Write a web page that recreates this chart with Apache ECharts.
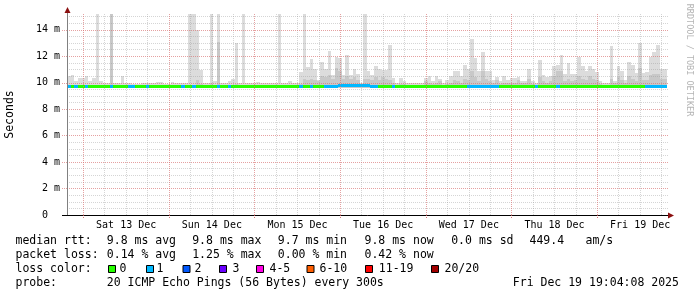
<!DOCTYPE html>
<html><head><meta charset="utf-8">
<script src="https://cdn.jsdelivr.net/npm/echarts@6/dist/echarts.min.js"></script>
<style>html,body{margin:0;padding:0;background:#fff}#c{width:697px;height:297px}</style>
</head><body><div id="c"></div>
<script>
// hours relative to Sat 13 Dec 00:00
const START_HOUR = -4.57;
const END_HOUR = 163.8;
const dayMidnights = [0, 24, 48, 72, 96, 120, 144];
const sixHourMarks = [6,12,18,30,36,42,54,60,66,78,84,90,102,108,114,126,132,138,150,156,162];
const dayLabelHours = [12, 36, 60, 84, 108, 132, 156];
const dayLabels = ['Sat 13 Dec','Sun 14 Dec','Mon 15 Dec','Tue 16 Dec','Wed 17 Dec','Thu 18 Dec','Fri 19 Dec'];
const yMajorTicks = [0, 2, 4, 6, 8, 10, 12, 14];
const yMinorTicks = [0.5,1,1.5,2.5,3,3.5,4.5,5,5.5,6.5,7,7.5,8.5,9,9.5,10.5,11,11.5,12.5,13,13.5,14.5,15];
const Y_MAX = 15.2;

// hourly smoke (ms)
const smokeTop = [
 10.48,10.6,10.1,10.35,10.35,10.5,10.1,10.35,15.2,10.15,9.95,9.95,
 15.2,9.95,9.95,10.5,9.95,9.95,9.9,9.9,9.9,9.95,9.95,9.95,
 9.95,10.05,10.05,9.9,9.9,10.05,9.95,9.95,9.95,9.95,15.2,15.2,
 14.0,11.0,9.95,9.95,15.2,10.1,15.2,9.95,9.95,10.1,10.3,13.0,
 9.95,15.2,9.95,9.95,9.95,10.05,9.95,9.95,9.95,9.95,9.95,15.2,
 9.95,9.95,10.1,9.95,9.95,10.78,15.2,11.2,11.8,11.03,10.2,11.54,
 11.03,12.37,10.6,11.94,11.9,10.6,12.12,10.6,11.03,10.7,9.95,15.2,
 10.86,10.6,11.24,11.03,11.0,11.0,12.83,10.35,9.95,10.35,10.1,9.98,
 9.98,9.98,9.98,9.98,10.35,10.48,10.1,10.48,10.3,9.95,10.2,10.48,
 10.86,10.86,10.48,11.36,11.03,13.3,11.9,10.86,12.32,10.9,10.86,10.2,
 10.4,10.1,10.48,10.2,10.35,10.35,10.4,10.15,10.15,11.03,10.1,9.95,
 11.69,10.6,10.4,10.48,11.3,11.36,12.12,10.7,11.49,10.7,10.7,11.94,
 11.24,10.9,11.24,11.03,10.78,10.1,9.95,9.95,12.8,10.15,11.24,10.9,
 10.2,11.6,11.36,10.73,13.0,10.73,10.78,11.94,12.3,12.88,11.03,11.03
];
const smokeMid = [
 9.85,9.85,9.85,9.85,9.85,9.85,9.85,9.85,9.85,9.85,9.85,9.85,
 15.2,9.85,9.85,9.85,9.85,9.85,9.85,9.85,9.85,9.85,9.85,9.85,
 9.85,9.85,9.85,9.85,9.85,9.85,9.85,9.85,9.85,9.85,9.85,9.85,
 10.2,9.9,9.85,9.85,9.95,9.85,13.05,9.85,9.85,9.85,9.85,9.9,
 9.85,9.85,9.85,9.85,9.85,9.85,9.85,9.85,9.85,9.85,9.85,9.85,
 9.85,9.85,9.85,9.85,9.85,9.9,10.3,10.2,10.3,10.2,10.1,10.5,
 10.4,10.6,10.3,11.1,10.9,10.3,10.5,10.3,10.4,10.2,9.9,10.3,
 10.3,10.2,10.4,10.2,10.4,10.3,10.2,9.95,9.85,9.9,9.9,9.85,
 9.85,9.85,9.85,9.85,10.1,9.95,9.9,9.95,10.1,9.85,9.9,9.95,
 10.2,10.1,9.95,10.3,10.2,10.86,10.4,10.1,10.86,10.3,10.1,9.95,
 10.2,9.9,10.0,9.95,10.0,10.0,10.2,9.95,9.95,10.3,9.9,9.85,
 10.4,10.1,10.0,10.1,10.5,10.86,10.86,10.1,10.3,10.1,10.2,10.5,
 10.3,10.2,10.5,10.3,10.2,9.9,9.85,9.85,10.3,9.95,10.4,10.2,
 9.95,10.5,10.3,10.1,11.1,10.2,10.2,10.6,10.7,10.7,10.3,10.3
];
const smokeLow = [
 9.62,9.63,9.6,9.63,9.63,9.61,9.63,9.63,9.63,9.63,9.64,9.64,
 9.62,9.64,9.64,9.63,9.64,9.61,9.61,9.63,9.64,9.64,9.61,9.64,
 9.64,9.64,9.64,9.64,9.64,9.64,9.64,9.64,9.61,9.64,9.63,9.61,
 9.63,9.63,9.64,9.64,9.63,9.64,9.62,9.64,9.64,9.61,9.63,9.63,
 9.64,9.63,9.64,9.64,9.64,9.64,9.64,9.64,9.64,9.64,9.64,9.63,
 9.64,9.64,9.64,9.64,9.64,9.62,9.63,9.63,9.62,9.63,9.63,9.63,
 9.62,9.62,9.62,9.62,9.64,9.64,9.64,9.64,9.64,9.64,9.64,9.64,
 9.64,9.62,9.62,9.63,9.63,9.63,9.63,9.62,9.64,9.64,9.64,9.64,
 9.64,9.64,9.64,9.64,9.64,9.64,9.64,9.64,9.64,9.64,9.64,9.64,
 9.64,9.64,9.64,9.64,9.62,9.62,9.62,9.62,9.62,9.62,9.62,9.62,
 9.62,9.64,9.64,9.64,9.64,9.64,9.64,9.64,9.64,9.64,9.64,9.62,
 9.64,9.64,9.64,9.64,9.64,9.62,9.64,9.64,9.64,9.64,9.64,9.64,
 9.64,9.64,9.64,9.64,9.64,9.64,9.64,9.64,9.64,9.64,9.64,9.64,
 9.64,9.64,9.64,9.64,9.63,9.64,9.62,9.62,9.62,9.62,9.62,9.62
];
const medianRtt = [
 9.73,9.76,9.73,9.76,9.76,9.73,9.76,9.76,9.76,9.76,9.76,9.76,
 9.78,9.76,9.76,9.76,9.76,9.73,9.73,9.76,9.76,9.76,9.73,9.76,
 9.76,9.76,9.77,9.77,9.76,9.76,9.76,9.76,9.73,9.76,9.76,9.73,
 9.76,9.76,9.76,9.76,9.76,9.76,9.74,9.76,9.76,9.73,9.76,9.76,
 9.76,9.76,9.76,9.76,9.77,9.77,9.76,9.76,9.76,9.76,9.76,9.76,
 9.76,9.76,9.76,9.76,9.76,9.74,9.76,9.76,9.74,9.76,9.76,9.76,
 9.74,9.74,9.74,9.74,9.8,9.8,9.8,9.8,9.8,9.8,9.8,9.8,
 9.8,9.74,9.74,9.76,9.76,9.76,9.76,9.74,9.76,9.76,9.76,9.76,
 9.77,9.77,9.77,9.77,9.77,9.77,9.77,9.77,9.77,9.77,9.77,9.77,
 9.77,9.77,9.77,9.77,9.75,9.75,9.75,9.75,9.75,9.75,9.75,9.75,
 9.75,9.77,9.77,9.77,9.77,9.77,9.77,9.77,9.77,9.77,9.77,9.75,
 9.77,9.77,9.77,9.77,9.77,9.75,9.77,9.77,9.77,9.77,9.77,9.77,
 9.77,9.77,9.77,9.77,9.77,9.77,9.77,9.77,9.77,9.77,9.77,9.77,
 9.77,9.77,9.77,9.77,9.77,9.77,9.75,9.75,9.75,9.75,9.75,9.75
];
// lost pings (of 20) per hour
const lossCount = [
 1,0,1,0,0,1,0,0,0,0,0,0,
 1,0,0,0,0,1,1,0,0,0,1,0,
 0,0,0,0,0,0,0,0,1,0,0,1,
 0,0,0,0,0,0,1,0,0,1,0,0,
 0,0,0,0,0,0,0,0,0,0,0,0,
 0,0,0,0,0,1,0,0,1,0,0,0,
 1,1,1,1,1,1,1,1,1,1,1,1,
 1,1,1,0,0,0,0,1,0,0,0,0,
 0,0,0,0,0,0,0,0,0,0,0,0,
 0,0,0,0,1,1,1,1,1,1,1,1,
 1,0,0,0,0,0,0,0,0,0,0,1,
 0,0,0,0,0,1,0,0,0,0,0,0,
 0,0,0,0,0,0,0,0,0,0,0,0,
 0,0,0,0,0,0,1,1,1,1,1,1
];
const lossLegend = ['0','1','2','3','4-5','6-10','11-19','20/20'];
const lossLegendColors = ['#26ff00','#00b8ff','#0059ff','#6a00ff','#ff00e5','#ff5e00','#ff0000','#a10000'];
const lossColorByCount = ['#26ff00','#00b8ff','#0059ff','#6a00ff'];

const statsRows = [
  ['median rtt:', '9.8 ms avg', '9.8 ms max', '9.7 ms min', '9.8 ms now', '0.0 ms sd', '449.4', 'am/s'],
  ['packet loss:', '0.14 % avg', '1.25 % max', '0.00 % min', '0.42 % now']
];
const probeText = '20 ICMP Echo Pings (56 Bytes) every 300s';
const stampText = 'Fri Dec 19 19:04:08 2025';

const smokeData = smokeTop.map((t, i) => [START_HOUR + i, smokeLow[i], smokeMid[i], t]);
const medianData = medianRtt.map((m, i) => [START_HOUR + i, m, lossCount[i]]);

const MONO = '"DejaVu Sans Mono", monospace';
const chart = echarts.init(document.getElementById('c'), null, {renderer: 'canvas'});

function renderSmoke(params, api) {
  const x = api.value(0), lo = api.value(1), mid = api.value(2), hi = api.value(3);
  const a = api.coord([x, lo]), b = api.coord([x + 1, hi]), m = api.coord([x, mid]);
  const x0 = Math.round(a[0]), x1 = Math.round(b[0]);
  const yl = Math.round(a[1]), yh = Math.round(b[1]), ym = Math.round(m[1]);
  return {type: 'group', children: [
    {type: 'rect', shape: {x: x0, y: yh, width: x1 - x0, height: yl - yh}, style: {fill: '#dcdcdc'}},
    {type: 'rect', shape: {x: x0, y: ym, width: x1 - x0, height: yl - ym}, style: {fill: '#c8c8c8'}}
  ]};
}
function renderMedian(params, api) {
  const x = api.value(0), v = api.value(1), loss = api.value(2);
  const a = api.coord([x, v]), b = api.coord([x + 1, v]);
  const x0 = Math.round(a[0]), x1 = Math.round(b[0]), y = Math.round(a[1]);
  return {type: 'rect', shape: {x: x0, y: y - 1, width: x1 - x0, height: 3}, style: {fill: lossColorByCount[loss]}};
}

const majorLine = {color: 'rgba(215,110,110,0.65)', type: [1, 1], width: 1};
const minorLine = {color: 'rgba(150,150,150,0.4)', type: [1, 1], width: 1};

chart.setOption({
  animation: false,
  grid: {left: 67, top: 14, width: 601, height: 201, outerBoundsMode: 'none', containLabel: false},
  xAxis: [
    {type: 'value', min: START_HOUR, max: END_HOUR, z: 5, position: 'bottom',
     axisLine: {show: true, onZero: false, lineStyle: {color: '#000', width: 1}},
     axisTick: {show: true, customValues: dayMidnights, length: 3, lineStyle: {color: 'rgba(200,90,90,0.8)', type: [1, 1]}},
     axisLabel: {show: true, customValues: dayLabelHours, margin: 5,
       formatter: v => dayLabels[dayLabelHours.indexOf(v)] || '',
       fontFamily: MONO, fontSize: 10, color: '#000'},
     splitLine: {show: true, lineStyle: majorLine}},
    {type: 'value', min: START_HOUR, max: END_HOUR, z: 4, position: 'bottom',
     axisLine: {show: false, onZero: false}, axisTick: {show: false, customValues: sixHourMarks},
     axisLabel: {show: false}, splitLine: {show: true, lineStyle: minorLine}}
  ],
  yAxis: [
    {type: 'value', min: 0, max: Y_MAX, z: 5, position: 'left',
     name: 'Seconds', nameLocation: 'middle', nameRotate: 90, nameGap: 51,
     nameTextStyle: {fontFamily: MONO, fontSize: 11.5, color: '#000'},
     axisLine: {show: true, onZero: false, lineStyle: {color: '#808080'}},
     axisTick: {show: true, customValues: yMajorTicks, length: 5, lineStyle: {color: 'rgba(215,110,110,0.65)', type: [1, 1]}},
     axisLabel: {customValues: yMajorTicks, margin: 7,
       formatter: v => v === 0 ? '0  ' : v + ' m',
       fontFamily: MONO, fontSize: 10, color: '#000'},
     splitLine: {show: true, lineStyle: majorLine}},
    {type: 'value', min: 0, max: Y_MAX, z: 4, position: 'left',
     axisLine: {show: false, onZero: false}, axisTick: {show: false, customValues: yMinorTicks},
     axisLabel: {show: false}, splitLine: {show: true, lineStyle: minorLine}}
  ],
  series: [
    {type: 'custom', name: 'smoke', xAxisIndex: 0, yAxisIndex: 0, clip: true,
     renderItem: renderSmoke, encode: {x: 0, y: [1, 2, 3]}, data: smokeData, z: 2},
    {type: 'custom', name: 'median', xAxisIndex: 0, yAxisIndex: 0, clip: true,
     renderItem: renderMedian, encode: {x: 0, y: 1}, data: medianData, z: 3}
  ]
});

// decorations: arrows, legend text
const tl = chart.convertToPixel({gridIndex: 0}, [START_HOUR, Y_MAX]);
const br = chart.convertToPixel({gridIndex: 0}, [END_HOUR, 0]);
const gx = Math.round(tl[0]), gy = Math.round(tl[1]), rx = Math.round(br[0]), by = Math.round(br[1]);
const arrowColor = '#8b1010';
const graphics = [
  {type: 'line', shape: {x1: gx - 5, y1: by + 0.5, x2: gx, y2: by + 0.5}, style: {stroke: '#000', lineWidth: 1}, z: 10},
  {type: 'line', shape: {x1: gx + 0.5, y1: gy - 1, x2: gx + 0.5, y2: gy + 1}, style: {stroke: '#808080', lineWidth: 1}, z: 10},
  {type: 'polygon', shape: {points: [[gx + 0.5, gy - 7], [gx - 2.5, gy - 1], [gx + 3.5, gy - 1]]}, style: {fill: arrowColor}, z: 10},
  {type: 'polygon', shape: {points: [[rx + 6, by + 0.5], [rx, by - 2.5], [rx, by + 3.5]]}, style: {fill: arrowColor}, z: 10},
  {type: 'text', x: 689, y: 60, rotation: -Math.PI / 2,
   style: {text: 'RRDTOOL / TOBI OETIKER', font: '8.5px ' + MONO, fill: '#b4b4b4', align: 'center', verticalAlign: 'middle'}}
];
const LEG_FONT = '11.5px ' + MONO;
const colX = [15.5, 106.8, 192.2, 277.8, 364.5, 451.2, 529.5, 585.5];
const rowY = [241, 255, 269, 283];
statsRows.forEach((row, r) => {
  row.forEach((t, c) => graphics.push({type: 'text', x: colX[c], y: rowY[r],
    style: {text: t, font: LEG_FONT, fill: '#000', verticalAlign: 'middle'}}));
});
graphics.push({type: 'text', x: 15.5, y: rowY[2], style: {text: 'loss color:', font: LEG_FONT, fill: '#000', verticalAlign: 'middle'}});
const boxX = [108, 146, 182.5, 219, 256, 306.5, 365, 431];
const lblX = [119.5, 156.5, 194.5, 232.5, 269.5, 319.5, 378.8, 444.5];
lossLegend.forEach((t, k) => {
  graphics.push({type: 'rect', shape: {x: boxX[k] + 0.5, y: rowY[2] - 3.5, width: 7, height: 7},
    style: {fill: lossLegendColors[k], stroke: '#000', lineWidth: 1}});
  graphics.push({type: 'text', x: lblX[k], y: rowY[2], style: {text: t, font: LEG_FONT, fill: '#000', verticalAlign: 'middle'}});
});
graphics.push({type: 'text', x: 15.5, y: rowY[3], style: {text: 'probe:', font: LEG_FONT, fill: '#000', verticalAlign: 'middle'}});
graphics.push({type: 'text', x: 106.8, y: rowY[3], style: {text: probeText, font: LEG_FONT, fill: '#000', verticalAlign: 'middle'}});
graphics.push({type: 'text', x: 512.8, y: rowY[3], style: {text: stampText, font: LEG_FONT, fill: '#000', verticalAlign: 'middle'}});
chart.setOption({graphic: graphics});
</script></body></html>
